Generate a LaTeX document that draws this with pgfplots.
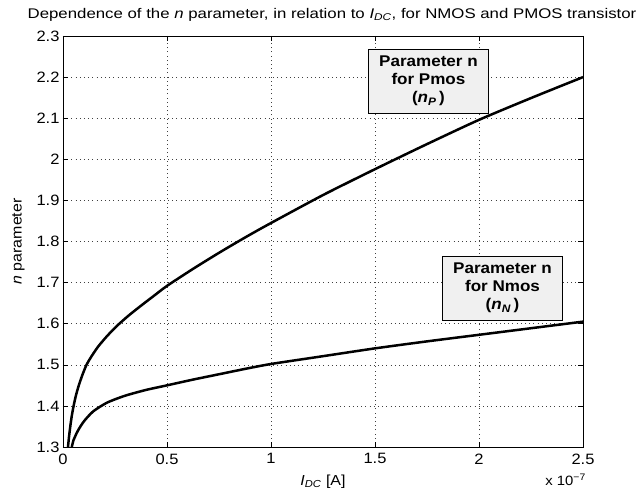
\documentclass[border=0pt]{standalone}
\usepackage{pgfplots}
\pgfplotsset{compat=1.18}
\usepackage{fontspec}
\setmainfont{Liberation Sans}[FakeStretch=1.1]
\newfontfamily\titlef{Liberation Sans}[FakeStretch=1.2]
\begin{document}
\begin{tikzpicture}
\begin{axis}[
 scale only axis, width=520pt, height=411pt,
 xmin=0, xmax=2.5, ymin=1.3, ymax=2.3,
 xtick={0,0.5,1,1.5,2,2.5},
 ytick={1.3,1.4,1.5,1.6,1.7,1.8,1.9,2,2.1,2.2,2.3},
 scaled ticks=false,
 yticklabel style={/pgf/number format/fixed,/pgf/number format/precision=1},
 xticklabel style={yshift=-3pt},
 grid=major,
 grid style={black!75, line width=0.6pt, dash pattern=on 0.8pt off 3.4pt},
 tick align=inside, major tick length=5pt,
 axis line style={line width=0.9pt},
 every tick/.style={black, line width=0.6pt},
 /pgf/number format/assume math mode=true,
 ticklabel style={font=\fontsize{15}{17}\selectfont},
 title={\titlef Dependence of the \textit{n} parameter, in relation to \textit{I}\textsubscript{\textit{DC}}, for NMOS and PMOS transistor},
 title style={font=\fontsize{14}{16}\selectfont, yshift=5pt, xshift=9pt},
 xlabel={\textit{I}\textsubscript{\textit{DC}} [A]},
 ylabel={\textit{n} parameter},
 label style={font=\fontsize{14.5}{16}\selectfont},
 xlabel style={yshift=-4pt},
 ylabel style={yshift=5pt},
 clip=true,
]
\addplot[black, line width=2.5pt, smooth, tension=0.4] coordinates {
(0.024,1.300) (0.029,1.325) (0.035,1.350) (0.042,1.375) (0.051,1.400)
(0.062,1.425) (0.076,1.450) (0.093,1.475) (0.113,1.500) (0.140,1.523)
(0.170,1.545) (0.212,1.570) (0.260,1.595) (0.316,1.620) (0.378,1.645)
(0.440,1.669) (0.500,1.692) (0.627,1.734) (0.755,1.774) (0.883,1.812)
(1.000,1.845) (1.250,1.913) (1.500,1.976) (1.750,2.037) (2.000,2.096)
(2.250,2.149) (2.500,2.200)
};
\addplot[black, line width=2.5pt, smooth, tension=0.4] coordinates {
(0.042,1.300) (0.046,1.308) (0.050,1.316) (0.056,1.323) (0.062,1.330)
(0.072,1.340) (0.085,1.351) (0.100,1.362) (0.120,1.374) (0.146,1.387)
(0.178,1.398) (0.212,1.408) (0.250,1.416) (0.306,1.426) (0.400,1.439)
(0.500,1.450) (0.625,1.464) (0.750,1.477) (0.875,1.490) (1.000,1.502)
(1.250,1.521) (1.500,1.540) (1.750,1.557) (2.000,1.573) (2.250,1.589)
(2.500,1.605)
};
\node[draw=black, fill=gray!12, align=center, font=\bfseries\fontsize{15.5}{18}\selectfont,
 minimum width=120pt, minimum height=64pt, inner sep=1pt, line width=0.8pt]
 at (axis cs:1.757,2.19) {Parameter n\\for Pmos\\(\textit{n}\textsubscript{\textit{P}}\,)};
\node[draw=black, fill=gray!12, align=center, font=\bfseries\fontsize{15.5}{18}\selectfont,
 minimum width=120pt, minimum height=64pt, inner sep=1pt, line width=0.8pt]
 at (axis cs:2.113,1.687) {Parameter n\\for Nmos\\(\textit{n}\textsubscript{\textit{N}}\,)};
\end{axis}
\node[anchor=north east, font=\fontsize{13.5}{15}\selectfont, inner sep=0pt]
 at ([xshift=3pt,yshift=-27pt]current axis.south east) {x 10\textsuperscript{−7}};
\path (current axis.south west) ++(-63pt,-52pt) coordinate (bl);
\path (current axis.north east) ++(59pt,36pt) coordinate (tr);
\useasboundingbox (bl) rectangle (tr);
\end{tikzpicture}
\end{document}
